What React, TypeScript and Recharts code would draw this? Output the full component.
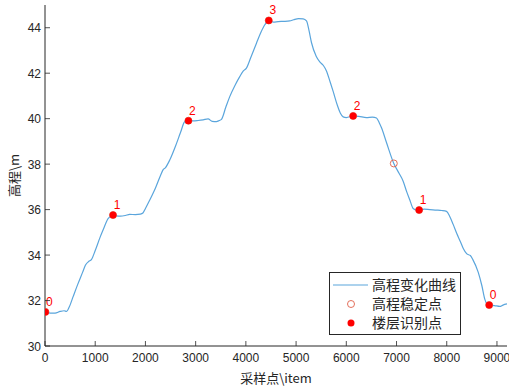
import {
  ComposedChart,
  Line,
  Scatter,
  XAxis,
  YAxis,
  Legend,
} from "recharts";

// elevation curve, sampled along the trace
const sampleX = [
  0, 100, 200, 300, 380, 430, 480, 558, 650, 750, 804, 870, 924, 1000, 1100, 1156, 1256, 1320, 1355, 1420,
  1500, 1600, 1687, 1800, 1900, 1950, 2000, 2086, 2200, 2300, 2350, 2400, 2484, 2600, 2700, 2783, 2856, 2950,
  3050, 3150, 3247, 3330, 3414, 3470, 3514, 3600, 3679, 3780, 3878, 3950, 4011, 4100, 4211, 4300, 4377, 4456,
  4550, 4642, 4750, 4874, 4950, 5050, 5140, 5207, 5260, 5306, 5400, 5472, 5540, 5605, 5680, 5738, 5820, 5880,
  5937, 6000, 6136, 6250, 6400, 6520, 6601, 6660, 6701, 6800, 6946, 7050, 7132, 7200, 7265, 7331, 7400, 7450,
  7550, 7663, 7800, 7900, 7996, 8060, 8128, 8200, 8270, 8327, 8400, 8470, 8520, 8626, 8700, 8759, 8800, 8845,
  8950, 9057, 9120, 9200,
];
const sampleY = [
  31.5, 31.45, 31.45, 31.52, 31.55, 31.52, 31.7, 32.16, 32.7, 33.25, 33.55, 33.72, 33.8, 34.2, 34.8, 35.1, 35.6,
  35.73, 35.76, 35.72, 35.71, 35.74, 35.79, 35.78, 35.8, 35.85, 36.05, 36.42, 36.95, 37.5, 37.75, 37.85, 38.18,
  38.8, 39.4, 39.87, 39.91, 39.9, 39.92, 39.95, 39.99, 39.88, 39.87, 39.92, 39.97, 40.5, 40.97, 41.45, 41.85,
  42.1, 42.22, 42.7, 43.32, 43.8, 44.13, 44.32, 44.25, 44.27, 44.28, 44.3, 44.35, 44.4, 44.39, 44.3, 43.85,
  43.35, 42.75, 42.5, 42.35, 42.1, 41.6, 41.2, 40.6, 40.25, 40.08, 40.05, 40.12, 40.1, 40.05, 40.07, 40.03,
  39.8, 39.6, 38.95, 38.03, 37.6, 37.25, 36.8, 36.42, 36.05, 35.98, 35.98, 36.02, 36.0, 35.98, 35.96, 35.92,
  35.7, 35.35, 34.95, 34.6, 34.3, 34.05, 33.98, 33.8, 33.25, 32.65, 32.05, 31.85, 31.8, 31.78, 31.74, 31.8,
  31.85,
];

// floor recognition points
const floorX = [8, 1355, 2856, 4456, 6136, 7450, 8845];
const floorY = [31.5, 35.76, 39.91, 44.32, 40.12, 35.98, 31.8];
const floorLabel = ["0", "1", "2", "3", "2", "1", "0"];

// stable elevation points
const stableX = [8, 1355, 2856, 4456, 6136, 6946, 7450, 8845];
const stableY = [31.5, 35.76, 39.91, 44.32, 40.12, 38.03, 35.98, 31.8];

const xTicks = [0, 1000, 2000, 3000, 4000, 5000, 6000, 7000, 8000, 9000];
const yTicks = [30, 32, 34, 36, 38, 40, 42, 44];

const curve = sampleX.map((x, i) => ({ x, y: sampleY[i] }));
const floors = floorX.map((x, i) => ({ x, y: floorY[i], label: floorLabel[i] }));
const stables = stableX.map((x, i) => ({ x, y: stableY[i] }));

const AXIS = "#262626";
const TICK_FONT = "'Liberation Sans', Arial, sans-serif";
const CJK = "'Noto Sans CJK SC', 'Liberation Sans', sans-serif";

const BottomTick = ({ x, y, payload }: any) => (
  <g>
    <line x1={x} x2={x} y1={y} y2={y - 5} stroke={AXIS} strokeWidth={0.8} />
    <text x={x} y={y + 16} textAnchor="middle" fontSize={12} fontFamily={TICK_FONT} fill={AXIS}>
      {payload.value}
    </text>
  </g>
);

const TopTick = ({ x, y }: any) => (
  <line x1={x} x2={x} y1={y} y2={y + 5} stroke={AXIS} strokeWidth={0.8} />
);

const LeftTick = ({ x, y, payload }: any) => (
  <g>
    <line x1={x} x2={x + 5} y1={y} y2={y} stroke={AXIS} strokeWidth={0.8} />
    <text x={x - 4} y={y + 4.5} textAnchor="end" fontSize={12} fontFamily={TICK_FONT} fill={AXIS}>
      {payload.value}
    </text>
  </g>
);

const RightTick = ({ x, y }: any) => (
  <line x1={x} x2={x - 5} y1={y} y2={y} stroke={AXIS} strokeWidth={0.8} />
);

const FloorDot = ({ cx, cy, payload }: any) => (
  <g>
    <circle cx={cx} cy={cy} r={3.5} fill="#ff0000" />
    <text x={cx + 4} y={cy - 6} textAnchor="middle" fontSize={12} fontFamily={TICK_FONT} fill="#ff0000">
      {payload.label}
    </text>
  </g>
);

const StableDot = ({ cx, cy }: any) => (
  <circle cx={cx} cy={cy} r={3.5} fill="none" stroke="#e0604a" strokeWidth={0.9} />
);

const LegendBox = () => (
  <div
    style={{
      width: 130,
      height: 59,
      border: `1px solid ${AXIS}`,
      background: "#fff",
      fontFamily: CJK,
      fontSize: 14,
      color: AXIS,
      lineHeight: "19px",
      paddingTop: 2,
      boxSizing: "content-box",
    }}
  >
    {[0, 1, 2].map((i) => (
      <div key={i} style={{ display: "flex", alignItems: "center", height: 19 }}>
        <svg width={42} height={19} style={{ flex: "none" }}>
          {i === 0 && <line x1={3} x2={38} y1={10} y2={10} stroke="#5aa5dc" strokeWidth={1.2} />}
          {i === 1 && <circle cx={21} cy={10} r={3.5} fill="none" stroke="#e0604a" strokeWidth={0.9} />}
          {i === 2 && <circle cx={21} cy={10} r={3.5} fill="#ff0000" />}
        </svg>
        <span>{["高程变化曲线", "高程稳定点", "楼层识别点"][i]}</span>
      </div>
    ))}
  </div>
);

export default function App() {
  return (
    <div style={{ width: 509, height: 387, background: "#fff" }}>
      <style>{"body{margin:0}"}</style>
      <ComposedChart width={509} height={387} margin={{ top: 5, right: 2, bottom: 0, left: 0 }}>
        <XAxis
          dataKey="x"
          type="number"
          domain={[0, 9200]}
          ticks={xTicks}
          height={41}
          stroke={AXIS}
          tickLine={false}
          tickSize={0}
          tickMargin={0}
          tick={<BottomTick />}
          interval={0}
          allowDataOverflow
          label={{ value: "采样点\\item", position: "insideBottom", offset: 4, fontSize: 13, fontFamily: CJK, fill: AXIS }}
        />
        <XAxis
          xAxisId="top"
          dataKey="x"
          type="number"
          orientation="top"
          domain={[0, 9200]}
          ticks={xTicks}
          height={0}
          stroke={AXIS}
          tickLine={false}
          tickSize={0}
          tickMargin={0}
          tick={<TopTick />}
          interval={0}
          allowDataOverflow
        />
        <YAxis
          type="number"
          domain={[30, 45]}
          ticks={yTicks}
          width={45}
          stroke={AXIS}
          tickLine={false}
          tickSize={0}
          tickMargin={0}
          tick={<LeftTick />}
          interval={0}
          allowDataOverflow
          label={{ value: "高程\\m", angle: -90, position: "insideLeft", offset: 14, fontSize: 13, fontFamily: CJK, fill: AXIS, style: { textAnchor: "middle" } }}
        />
        <YAxis
          yAxisId="right"
          type="number"
          orientation="right"
          domain={[30, 45]}
          ticks={yTicks}
          width={0}
          stroke={AXIS}
          tickLine={false}
          tickSize={0}
          tickMargin={0}
          tick={<RightTick />}
          interval={0}
          allowDataOverflow
        />
        <Line
          data={curve}
          dataKey="y"
          type="monotone"
          stroke="#5aa5dc"
          strokeWidth={1.2}
          dot={false}
          activeDot={false}
          isAnimationActive={false}
          name="高程变化曲线"
        />
        <Scatter data={stables} dataKey="y" shape={<StableDot />} isAnimationActive={false} name="高程稳定点" />
        <Scatter data={floors} dataKey="y" shape={<FloorDot />} isAnimationActive={false} name="楼层识别点" />
        <Legend
          layout="vertical"
          align="center"
          verticalAlign="middle"
          content={<LegendBox />}
          wrapperStyle={{ left: 329, top: 272, width: 132, height: 62, margin: 0 }}
        />
      </ComposedChart>
    </div>
  );
}
